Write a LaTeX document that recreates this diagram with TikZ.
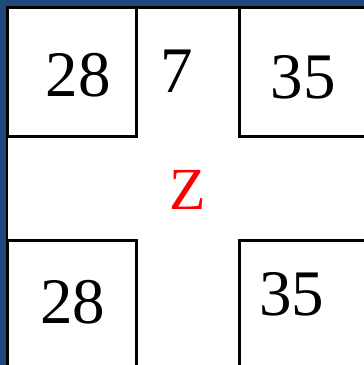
\documentclass[tikz,border=0pt]{standalone}
\usepackage{fontspec}
\setmainfont{Liberation Serif}
\usetikzlibrary{positioning}
\definecolor{frameBlue}{HTML}{1F497D}
\definecolor{zRed}{HTML}{FF0000}

\begin{document}
\begin{tikzpicture}[x=0.02cm, y=-0.02cm, cell/.style={draw, line width=1.7pt, minimum width=2.58cm, minimum height=2.58cm, inner sep=0pt}, num/.style={inner sep=0pt, font=\fontsize{37}{40}\selectfont}]
\useasboundingbox (0,0) rectangle (364,365);
\clip (0,0) rectangle (364,365);
\fill[frameBlue] (0,0) rectangle (364,365);
\draw[fill=white, line width=1.7pt] (7,7.5) rectangle (400,400);
\node[cell] (tl) at (72,72) {};
\node[cell] (tr) at (303.5,72) {};
\node[cell] (bl) at (72,305) {};
\node[cell] (br) at (303.5,305) {};
\node[num] (tlNum) at (78.5,75) {28};
\node[num] (trNum) at (303,77) {35};
\node[num] (blNum) at (73,302) {28};
\node[num] (brNum) at (291.5,294) {35};
\node[num] (gapNum) at (177,71) {7};
\node[num, font=\fontsize{34}{38}\selectfont, text=zRed] (zLbl) at (188,190) {Z};
\end{tikzpicture}
\end{document}
